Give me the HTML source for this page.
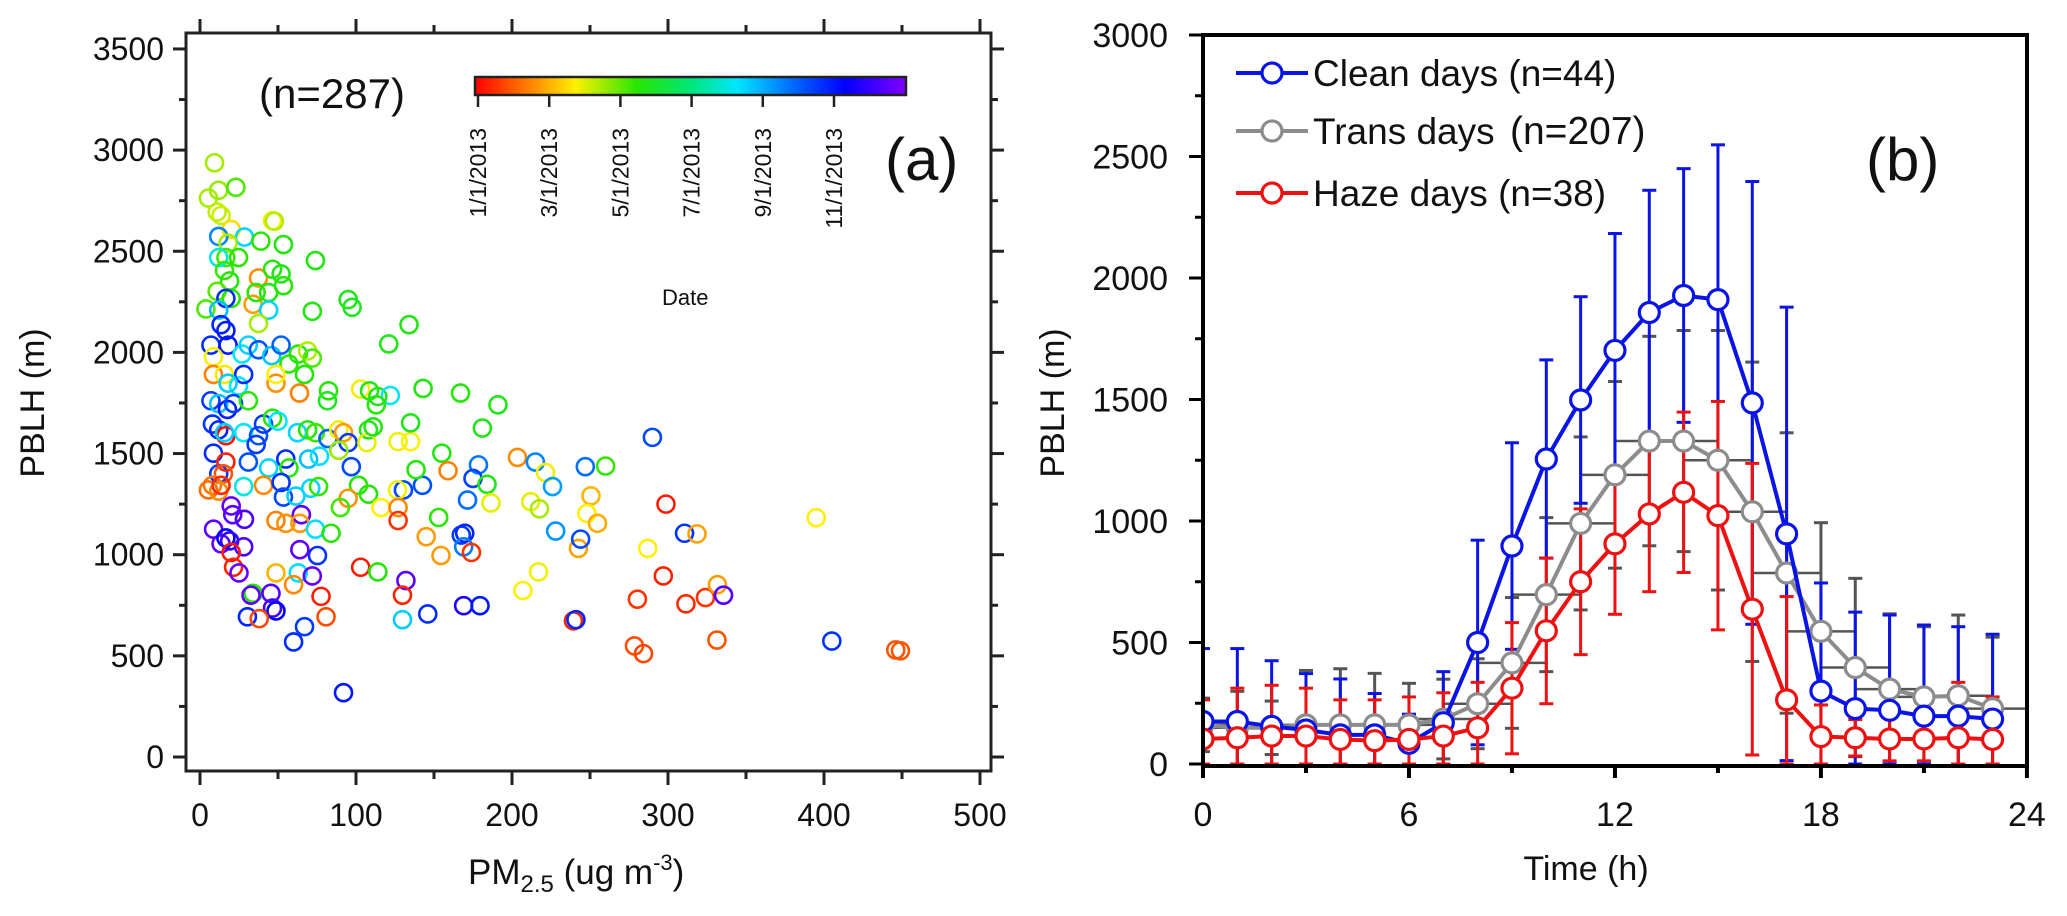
<!DOCTYPE html>
<html><head><meta charset="utf-8"><style>
html,body{margin:0;padding:0;background:#fff;}
svg{display:block;font-family:"Liberation Sans",Arial,sans-serif;}
</style></head><body>
<svg id="fig" width="2067" height="916" viewBox="0 0 2067 916" xmlns="http://www.w3.org/2000/svg">
<g id="pa"></g>
<g id="pb"></g>
</svg>
<script>
// ---------- Panel (a) data: [PM2.5, PBLH, month(0-12)] ----------
const scatterPM = [9.3,5.4,11.9,23,11,13.5,20,12,28.5,39,53.5,46.5,47.7,74,18,16.6,24.7,12,37.5,46.5,52,53.5,15.7,19,11,20,34,36,44,16.6,95,97.5,72,3.8,12,44,13.5,16.6,37.5,134,121,7,18,8.6,27,31,37.5,46,52,63,69,72,67,57,8.6,15.7,24.7,28,18,48.7,48.7,63.8,82.4,81.7,103,108.7,114,122,113,143,167,191,7,12,17.6,21.5,31,8,12,16.6,15.7,28,37.5,40.7,46.5,50,62.5,69,74,82,89,92,95,89,108,107,111,127,135,135,155,181,290,203.5,215,221.5,247,260,8.6,12,16.6,15,31,36,44,55,57,69.6,76.6,97,159,178.5,175,184,142.6,130.4,138.5,226,8,5.4,12,13.5,28,40.7,52,53.5,61.5,71,76,101.6,108,95,90,116,126.6,127,153,171.5,186.5,212,217.6,250.6,248,254.8,228,298.7,310.6,318.6,20,21,28.5,48.7,55,65,64,74,84,127,145,167.5,169.7,169,174,154.5,242.6,244,287,8.7,13.5,16.6,19,28,20,21.5,25,48.7,63,72,60,75.3,64,103,114,132,217,207,297,34,32.7,45.5,46.5,48.7,77.6,80.8,129.8,30.4,38,60,67,129.8,146,169,179.5,239.4,241,280.4,278.5,284.3,311.5,324,331.7,335.6,331.4,92,395,405,446,449];
const scatterPBLH = [2937,2763,2801,2816,2694,2677,2608,2573,2570,2550,2533,2651,2648,2454,2540,2469,2469,2469,2368,2411,2388,2330,2405,2353,2302,2267,2238,2296,2296,2267,2261,2223,2203,2215,2209,2209,2137,2108,2143,2137,2042,2036,2036,1978,1992,2036,2013,1984,2036,1992,2007,1972,1891,1943,1891,1891,1834,1891,1848,1848,1891,1799,1810,1761,1819,1810,1782,1787,1741,1822,1799,1741,1761,1747,1718,1747,1761,1646,1617,1588,1603,1603,1588,1646,1675,1660,1603,1617,1603,1574,1617,1603,1554,1516,1617,1554,1632,1559,1559,1652,1502,1626,1580,1481,1458,1406,1435,1438,1502,1400,1458,1400,1458,1545,1429,1473,1429,1473,1487,1435,1415,1444,1377,1348,1343,1320,1420,1337,1343,1320,1314,1343,1337,1343,1357,1285,1290,1328,1337,1343,1299,1279,1233,1233,1320,1233,1184,1270,1256,1262,1227,1291,1204,1155,1117,1250,1106,1103,1241,1198,1175,1169,1155,1198,1155,1126,1106,1169,1089,1097,1106,1039,1011,996,1031,1077,1031,1126,1054,1083,1068,1039,1011,938,910,910,910,895,852,996,1025,938,915,872,915,823,895,809,800,809,736,722,794,693,800,693,684,569,644,679,707,748,748,673,679,780,549,511,757,788,852,800,578,318,1183,573,529,525];
const scatterMonth = [3.5,3.5,3.6,4.2,3.3,3.2,2.6,8.5,7.5,4.5,4.7,2.9,3.4,4.7,3.5,4.3,4.5,7,1.7,4.6,4.8,4.5,4.4,4.6,4.1,4.5,1.8,4.5,4.7,9.7,4.8,4.9,4.7,4.2,7.8,7.5,9.8,9.9,3.5,4.7,4.8,9.7,10,2.8,7.3,7.6,9.2,7.7,9,4.6,3.4,4.2,4.6,4.5,1.5,2.7,7.3,9.7,7.6,1.7,2.8,1.5,4.6,4.9,2.9,4.7,4.8,7.2,4.6,4.7,4.6,4.8,9.5,7.7,9.9,9.4,4.5,9.6,9.8,0.2,7.6,7.3,9.2,9.5,4.5,7.3,7.5,4.6,4.4,9,2.9,1.8,9.5,3.6,4.8,3,4.7,2.9,2.8,4.8,4.7,4.8,9.3,1.6,8.5,2.9,8.8,4.4,9.7,9.5,0.4,1,9.2,9.5,7.5,9.7,4.6,7.8,7.4,9.3,1.5,8.7,9.4,4.8,9.2,9.3,4.6,8.2,1.4,1.3,1.6,0.5,7,1.6,9.6,9.3,7.6,7.5,4.4,4.5,4.6,1.7,4.3,2.8,2.9,1.6,4.5,8.8,3,3,3.5,2.1,2.8,2,8.3,0.3,9.6,1.9,11.6,11.5,11.3,1.5,1.7,11.6,1.8,7.4,4.5,0.6,1.8,9.5,9.8,8.6,0.6,1.8,1.9,9.3,2.8,11.5,11.5,10.3,11,11.3,0.3,0.4,11.6,2.1,7.4,11.6,1.6,9.6,11.5,0.3,4.6,11.5,2.9,2.8,0.4,4.5,11.5,11.4,11.2,10.3,0.3,0.9,0.4,9.8,0.8,9.7,9.5,7.6,9.7,10.7,10,0.4,9.8,0.6,0.9,0.8,0.5,0.6,1.8,11.4,1.0,10,2.8,9.6,1.0,1.0];
const xTicksA = [0,100,200,300,400,500];
const yTicksA = [0,500,1000,1500,2000,2500,3000,3500];
const cbarLabels = ["1/1/2013","3/1/2013","5/1/2013","7/1/2013","9/1/2013","11/1/2013"];
const cbarMonths = [0,2,4,6,8,10];

// ---------- Panel (b) data ----------
const hours = [0,1,2,3,4,5,6,7,8,9,10,11,12,13,14,15,16,17,18,19,20,21,22,23];
const cleanMean = [175,175,155,140,120,120,85,170,500,897,1255,1498,1702,1858,1928,1911,1486,947,300,228,221,197,197,185];
const cleanStd  = [300,300,270,232,230,170,120,210,421,425,408,425,481,503,522,637,911,933,445,397,392,375,368,349];
const transMean = [161,149,149,161,161,161,161,185,248,416,697,990,1190,1329,1329,1250,1038,786,546,397,308,276,281,228];
const transStd  = [110,150,110,224,231,212,171,164,185,269,317,356,384,431,455,534,616,577,447,367,310,289,332,294];
const hazeMean  = [103,108,115,115,101,96,101,115,149,312,548,750,906,1029,1118,1022,637,264,113,108,103,103,108,101];
const hazeStd   = [161,204,209,197,163,168,175,178,187,270,300,300,290,320,330,470,600,425,130,75,90,90,228,175];
const xTicksB = [0,6,12,18,24];
const yTicksB = [0,500,1000,1500,2000,2500,3000];

const NS = "http://www.w3.org/2000/svg";
function mk(parent, tag, attrs, text){
  const e = document.createElementNS(NS, tag);
  for (const k in attrs) e.setAttribute(k, attrs[k]);
  if (text !== undefined) e.textContent = text;
  parent.appendChild(e);
  return e;
}

// ---------- Panel (a) ----------
const pa = document.getElementById('pa');
const XA0=186, XA1=991, YA0=33, YA1=771;
const xA = v => 200 + v*1.56;
const yA = v => 757 - v*0.2023;

const cStops = [[0,[255,0,0]],[1.5,[255,128,0]],[2.8,[255,240,0]],[4.5,[40,230,0]],[6,[0,230,120]],[7.3,[0,230,255]],[8.8,[0,110,255]],[10.3,[0,0,255]],[12,[130,0,255]]];
function cmap(m){
  for (let i=0;i<cStops.length-1;i++){
    const a=cStops[i], b=cStops[i+1];
    if (m<=b[0]){ const t=Math.max(0,(m-a[0])/(b[0]-a[0]));
      return 'rgb('+a[1].map((c,j)=>Math.round(c+(b[1][j]-c)*t)).join(',')+')'; }
  }
  return 'rgb(130,0,255)';
}

// frame
const fa = mk(pa,'rect',{x:XA0,y:YA0,width:XA1-XA0,height:YA1-YA0,fill:'none',stroke:'#222','stroke-width':3});


// y ticks
for (let v=0; v<=3500; v+=250){
  const y=yA(v), maj = v%500===0;
  mk(pa,'line',{x1:XA0-(maj?13:7),x2:XA0,y1:y,y2:y,stroke:'#222','stroke-width':3});
  mk(pa,'line',{x1:XA1,x2:XA1+(maj?13:7),y1:y,y2:y,stroke:'#222','stroke-width':3});
}
yTicksA.forEach(v=>{
  const t = mk(pa,'text',{x:164,y:yA(v)+11,'text-anchor':'end','font-size':32,fill:'#111'},String(v));
  
  
});
for (let v=0; v<=500; v+=50){
  const x=xA(v), maj=v%100===0;
  if (x> XA1) continue;
  mk(pa,'line',{x1:x,x2:x,y1:YA1,y2:YA1+(maj?14:8),stroke:'#222','stroke-width':3});
  mk(pa,'line',{x1:x,x2:x,y1:YA0,y2:YA0-(maj?14:8),stroke:'#222','stroke-width':3});
}
xTicksA.forEach(v=>{
  const t = mk(pa,'text',{x:xA(v),y:826,'text-anchor':'middle','font-size':32,fill:'#111'},String(v));
  
  
});
// axis titles
const ytA = mk(pa,'text',{x:0,y:0,transform:'translate(44,403) rotate(-90)','text-anchor':'middle','font-size':34,fill:'#111'},'PBLH (m)');


const xtA = mk(pa,'text',{x:468,y:884,'font-size':35,fill:'#111'});


xtA.innerHTML = 'PM<tspan font-size="24" dy="8">2.5</tspan><tspan dy="-8"> (ug m</tspan><tspan font-size="22" dy="-14">-3</tspan><tspan dy="14">)</tspan>';

// scatter points
scatterPM.forEach((pm,i)=>{
  const c = mk(pa,'circle',{cx:xA(pm),cy:yA(scatterPBLH[i]),r:8.5,fill:'none',stroke:cmap(scatterMonth[i]),'stroke-width':2.6});
  
  
});

// annotations
const nA = mk(pa,'text',{x:259,y:108,'font-size':42,fill:'#111'},'(n=287)');


const la = mk(pa,'text',{x:885,y:180,'font-size':60,fill:'#111'},'(a)');



// colorbar
const defs = mk(document.getElementById('fig'),'defs',{});
const grad = mk(defs,'linearGradient',{id:'cbg',x1:0,x2:1,y1:0,y2:0});
cStops.forEach(s=>mk(grad,'stop',{offset:(s[0]/12),'stop-color':cmap(s[0])}));
const cb = mk(pa,'rect',{x:475,y:77,width:431,height:18,fill:'url(#cbg)',stroke:'#222','stroke-width':2.5});


cbarMonths.forEach((m,i)=>{
  const x = 478 + m*35.6;
  mk(pa,'line',{x1:x,x2:x,y1:95,y2:107,stroke:'#222','stroke-width':2.5});
  const t = mk(pa,'text',{x:0,y:0,transform:'translate('+(x+8)+',128) rotate(-90)','text-anchor':'end','font-size':23,fill:'#111'},cbarLabels[i]);
  
  
});
const dt = mk(pa,'text',{x:662,y:305,'font-size':22,fill:'#111'},'Date');



// ---------- Panel (b) ----------
const pb = document.getElementById('pb');
const XB0=1203, XB1=2027, YB0=35, YB1=766;
const xB = h => 1203 + h*34.33;
const yB = v => 764 - v*0.243;

for (let v=0; v<=3000; v+=250){
  const y=yB(v), maj=v%500===0;
  mk(pb,'line',{x1:XB0-(maj?14:8),x2:XB0,y1:y,y2:y,stroke:'#000','stroke-width':3});
}
yTicksB.forEach(v=>{
  const t = mk(pb,'text',{x:1168,y:yB(v)+12,'text-anchor':'end','font-size':34,fill:'#111'},String(v));
  
  
});
for (let h=0; h<=24; h+=3){
  const x=xB(h), maj=h%6===0;
  mk(pb,'line',{x1:x,x2:x,y1:YB1,y2:YB1+(maj?12:7),stroke:'#000','stroke-width':4});
}
xTicksB.forEach(h=>{
  const t = mk(pb,'text',{x:xB(h),y:826,'text-anchor':'middle','font-size':34,fill:'#111'},String(h));
  
  
});
const ytB = mk(pb,'text',{x:0,y:0,transform:'translate(1064,403) rotate(-90)','text-anchor':'middle','font-size':34,fill:'#111'},'PBLH (m)');


const xtB = mk(pb,'text',{x:1586,y:880,'text-anchor':'middle','font-size':34,fill:'#111'},'Time (h)');



const clipB = mk(defs,'clipPath',{id:'clipb'});
mk(clipB,'rect',{x:XB0,y:YB0,width:XB1-XB0,height:YB1-YB0});
const plotB = mk(pb,'g',{'clip-path':'url(#clipb)'});

function drawErr(mean,std,color,name,xerr){
  const g = mk(plotB,'g',{});
  
  
  hours.forEach((h,i)=>{
    const x=xB(h), hi=mean[i]+std[i], lo=Math.max(0,mean[i]-std[i]);
    mk(g,'line',{x1:x,x2:x,y1:yB(hi),y2:yB(lo),stroke:color,'stroke-width':3});
    mk(g,'line',{x1:x-7,x2:x+7,y1:yB(hi),y2:yB(hi),stroke:color,'stroke-width':3});
    mk(g,'line',{x1:x-7,x2:x+7,y1:yB(lo),y2:yB(lo),stroke:color,'stroke-width':3});
    if (xerr){
      mk(g,'line',{x1:xB(h-1),x2:xB(h+1),y1:yB(mean[i]),y2:yB(mean[i]),stroke:color,'stroke-width':2.5});
    }
  });
}
drawErr(transMean,transStd,'#555','trans-error-bars',true);
drawErr(cleanMean,cleanStd,'#0a14e6','clean-error-bars',false);
drawErr(hazeMean,hazeStd,'#ee1111','haze-error-bars',false);

function drawSeries(mean,color,name){
  const pts = hours.map((h,i)=>xB(h)+','+yB(mean[i])).join(' ');
  const l = mk(plotB,'polyline',{points:pts,fill:'none',stroke:color,'stroke-width':4});
  
  
  hours.forEach((h,i)=>{
    const c = mk(plotB,'circle',{cx:xB(h),cy:yB(mean[i]),r:10,fill:'#fff',stroke:color,'stroke-width':3.2});
    
    
  });
}
drawSeries(transMean,'#8c8c8c','trans');
drawSeries(cleanMean,'#0a14e6','clean');
drawSeries(hazeMean,'#ee1111','haze');

// frame b
const fb = mk(pb,'path',{d:'M'+XB0+','+YB1+' V'+YB0+' H'+XB1+' V'+YB1+' Z',fill:'none',stroke:'#000','stroke-width':4});



// legend
const legNames = ['Clean days (n=44)','Trans days','Haze days (n=38)'];
const legColors = ['#0a14e6','#8c8c8c','#ee1111'];
const legY = [73,131,193];
legNames.forEach((n,i)=>{
  const g = mk(pb,'g',{});
  
  
  mk(g,'line',{x1:1236,x2:1308,y1:legY[i],y2:legY[i],stroke:legColors[i],'stroke-width':4});
  mk(g,'circle',{cx:1272,cy:legY[i],r:10,fill:'#fff',stroke:legColors[i],'stroke-width':3.2});
  mk(g,'text',{x:1313,y:legY[i]+13,'font-size':37,fill:'#111'},n);
  if (i===1) mk(g,'text',{x:1510,y:legY[i]+13,'font-size':39,fill:'#111'},'(n=207)');
});
const lb = mk(pb,'text',{x:1866,y:180,'font-size':60,fill:'#111'},'(b)');


</script>
</body></html>
